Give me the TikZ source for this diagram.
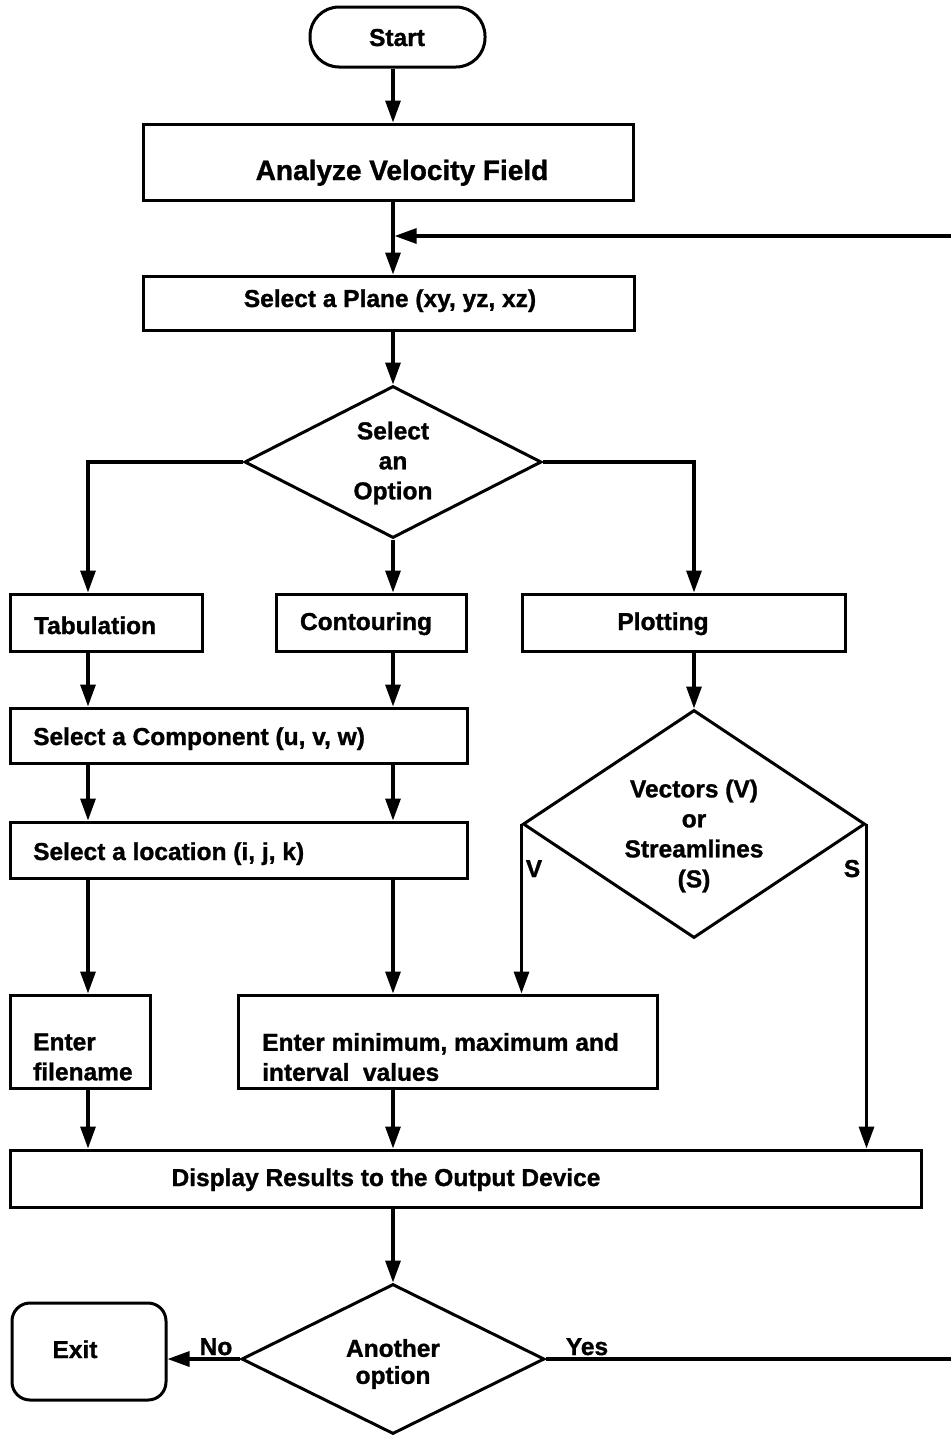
\documentclass[tikz,border=0pt]{standalone}
\usepackage{fontspec}
\setmainfont{Liberation Sans}[BoldFeatures={FakeBold=1.2}]
\usetikzlibrary{shapes.geometric,arrows.meta,calc}

\begin{document}
\begin{tikzpicture}[x=1pt,y=-1pt,
  proc/.style={draw, rectangle, line width=3pt, inner sep=0pt},
  term/.style={draw, rectangle, line width=3pt, inner sep=0pt, rounded corners=#1},
  deci/.style={draw, diamond, line width=3pt, inner sep=0pt},
  txt/.style={inner sep=0pt, font=\fontsize{24.5}{30}\selectfont\bfseries},
  bigtxt/.style={inner sep=0pt, font=\fontsize{28}{33}\selectfont\bfseries},
  flow/.style={draw, line width=3.2pt, -{Triangle[length=22pt,width=15pt]}},
  wire/.style={draw, line width=3.2pt}]

\useasboundingbox (0,0) rectangle (951,1435);

% column positions of the vertical connectors
\coordinate (trunk) at (393,0);
\coordinate (colA) at (88,0);
\coordinate (colC) at (694,0);

% ---- shapes ----
\node[term=29pt, minimum width=175, minimum height=60] (start) at (397.5,37) {};
\node[proc, minimum width=490, minimum height=76] (analyze) at (388,162) {};
\node[proc, minimum width=491, minimum height=54] (plane) at (388.5,303) {};
\node[deci, minimum width=297, minimum height=152] (d1) at (393,462) {};
\node[proc, minimum width=192, minimum height=57] (tab) at (106,622.5) {};
\node[proc, minimum width=190, minimum height=57] (cont) at (371,622.5) {};
\node[proc, minimum width=323, minimum height=57] (plot) at (683.5,622.5) {};
\node[proc, minimum width=457, minimum height=55] (comp) at (238.5,735.5) {};
\node[proc, minimum width=457, minimum height=56] (loc) at (238.5,850) {};
\node[deci, minimum width=342, minimum height=228] (d2) at (694,824) {};
\node[proc, minimum width=140, minimum height=93] (fname) at (80,1041.5) {};
\node[proc, minimum width=419, minimum height=93] (emin) at (447.5,1041.5) {};
\node[proc, minimum width=911, minimum height=57] (disp) at (465.5,1178.5) {};
\node[deci, minimum width=303, minimum height=150] (d3) at (393,1359) {};
\node[term=18pt, minimum width=154, minimum height=97] (exit) at (89,1351.5) {};

% ---- texts ----
\node[txt, anchor=base] (tStart) at (397,46) {Start};
\node[bigtxt, anchor=base] (tAnalyze) at (402,180) {Analyze Velocity Field};
\node[txt, anchor=base] (tPlane) at (390,307) {Select a Plane (xy, yz, xz)};
\node[txt, align=center] (tD1) at (393,463) {Select\\an\\Option};
\node[txt, anchor=base] (tTab) at (95,634) {Tabulation};
\node[txt, anchor=base] (tCont) at (366,630) {Contouring};
\node[txt, anchor=base] (tPlot) at (663,630) {Plotting};
\node[txt, anchor=base west] (tComp) at (33,745) {Select a Component (u, v, w)};
\node[txt, anchor=base west] (tLoc) at (33,860) {Select a location (i, j, k)};
\node[txt, align=center] (tD2) at (694,836) {Vectors (V)\\or\\Streamlines\\(S)};
\node[txt, align=left, anchor=west] (tFname) at (33,1057) {Enter\\filename};
\node[txt, align=left, anchor=west] (tEmin) at (262,1057) {Enter minimum, maximum and\\interval\ \ values};
\node[txt, anchor=base] (tDisp) at (386,1186) {Display Results to the Output Device};
\node[txt, align=center, font=\fontsize{24.5}{27}\selectfont\bfseries] (tD3) at (393,1364) {Another\\option};
\node[txt, anchor=base] (tExit) at (75,1358) {Exit};

% ---- branch labels ----
\node[txt, anchor=base] (lV) at (534,877) {V};
\node[txt, anchor=base] (lS) at (852,877) {S};
\node[txt, anchor=base] (lNo) at (216,1355) {No};
\node[txt, anchor=base] (lYes) at (587,1355) {Yes};

% ---- connectors ----
\draw[flow] (start.south -| trunk) -- (analyze.north -| trunk);
\draw[flow] (analyze.south -| trunk) -- (plane.north -| trunk);
\coordinate (loopin) at (951,236);
\draw[flow] (loopin) -- ($(loopin -| trunk)+(1.6,0)$);
\draw[flow] (plane.south -| trunk) -- (d1.north);

\draw[flow] (d1.west) -| (colA |- tab.north);
\draw[flow] (d1.south) -- (d1.south |- cont.north);
\draw[flow] (d1.east) -| (colC |- plot.north);

\draw[flow] (colA |- tab.south) -- (colA |- comp.north);
\draw[flow] (trunk |- cont.south) -- (trunk |- comp.north);
\draw[flow] (colA |- comp.south) -- (colA |- loc.north);
\draw[flow] (trunk |- comp.south) -- (trunk |- loc.north);
\draw[flow] (colA |- loc.south) -- (colA |- fname.north);
\draw[flow] (trunk |- loc.south) -- (trunk |- emin.north);
\draw[flow] (colA |- fname.south) -- (colA |- disp.north);
\draw[flow] (trunk |- emin.south) -- (trunk |- disp.north);

\draw[flow] (colC |- plot.south) -- (d2.north);
\draw[flow] (d2.west) -- (d2.west |- emin.north);
\draw[flow] (d2.east) -- (d2.east |- disp.north);

\draw[flow] (trunk |- disp.south) -- (d3.north);
\draw[flow] (d3.west) -- (d3.west -| exit.east);
\coordinate (loopout) at (951,1359);
\draw[wire] (d3.east) -- (loopout);

\end{tikzpicture}
\end{document}
